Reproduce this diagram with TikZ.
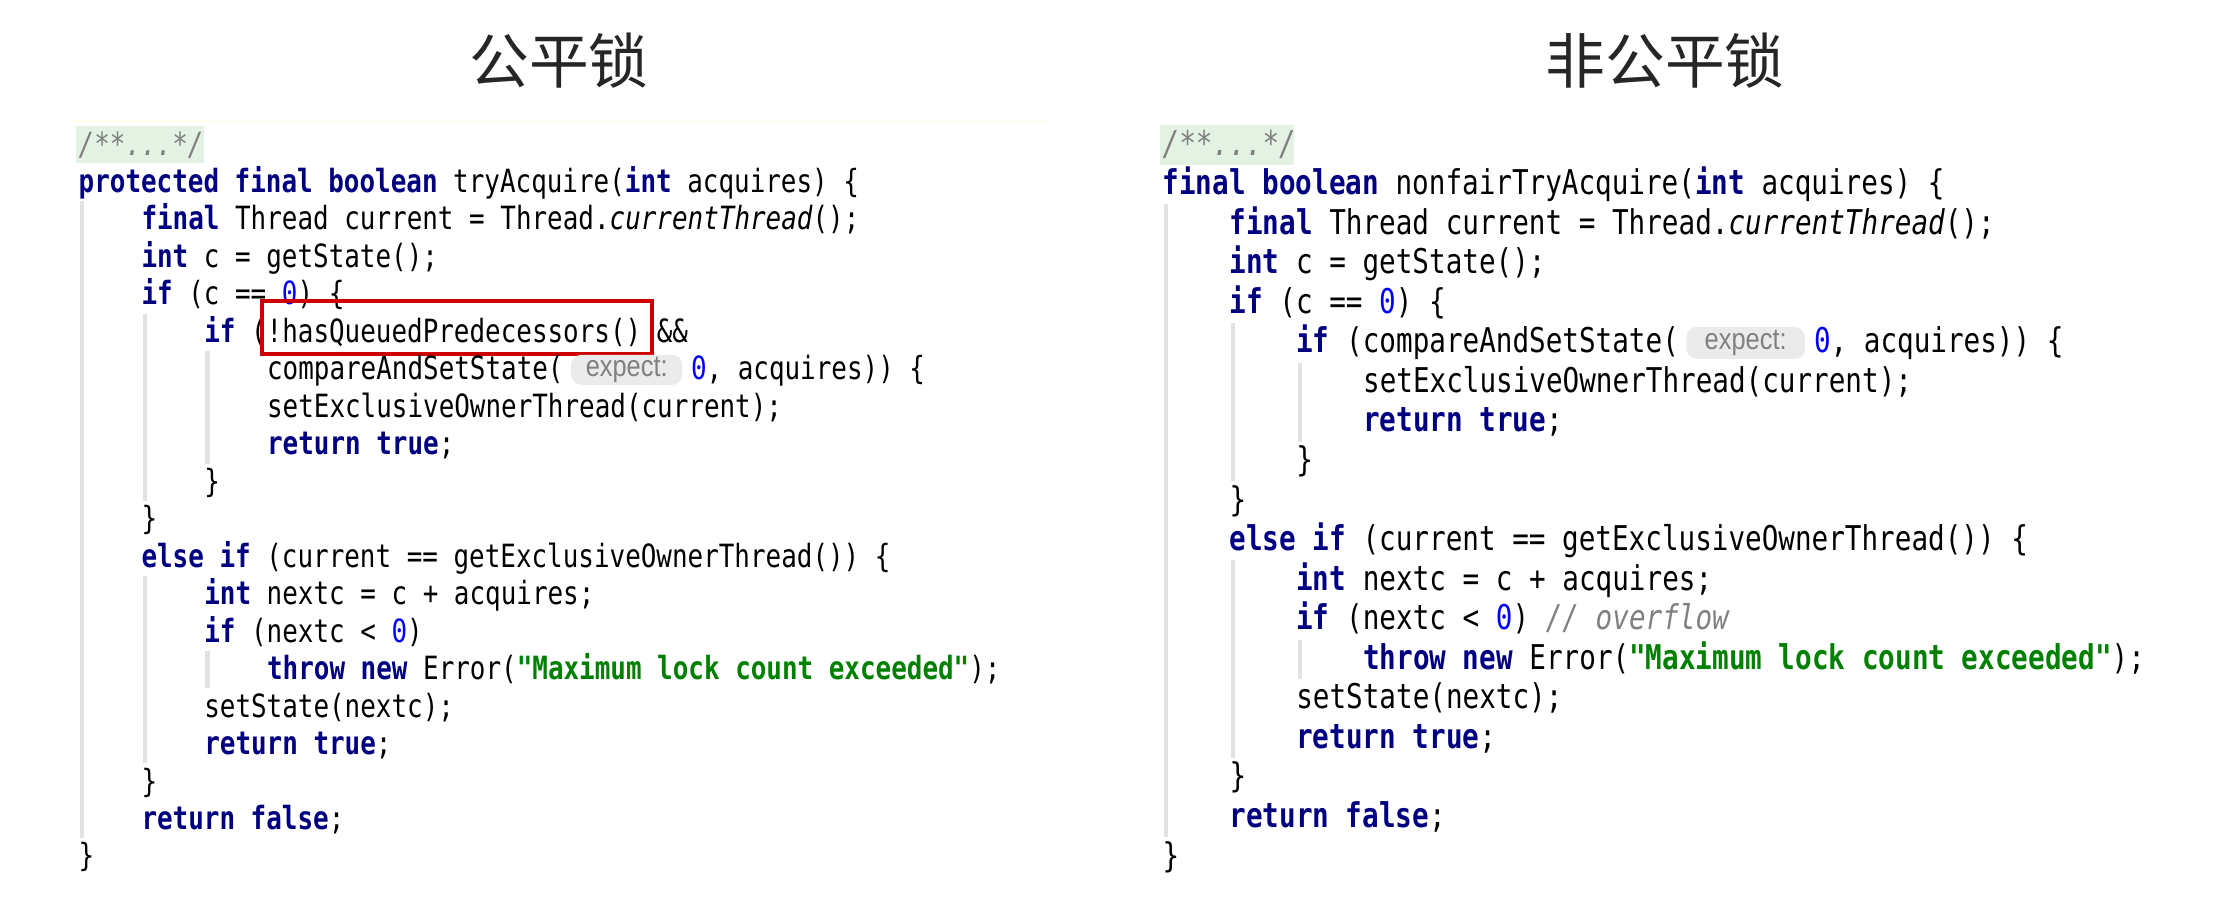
\documentclass[tikz,border=0pt]{standalone}
\usepackage{fontspec}
\setmonofont{DejaVu Sans Mono}[FakeStretch=0.81]
\newfontfamily\cjk{Noto Sans CJK SC}
\newfontfamily\hintfont{Liberation Sans}[FakeStretch=0.85]
\definecolor{kw}{HTML}{000080}
\definecolor{num}{HTML}{0000FF}
\definecolor{str}{HTML}{008000}
\definecolor{cmt}{HTML}{808080}
\definecolor{cmtbg}{HTML}{E4F2E4}
\definecolor{guide}{HTML}{E2E2E2}
\newcommand\K[1]{{\bfseries\color{kw}#1}}
\newcommand\N[1]{{\color{num}#1}}
\newcommand\St[1]{{\bfseries\color{str}#1}}
\newcommand\It[1]{{\itshape #1}}
\begin{document}
\begin{tikzpicture}[x=0.01cm,y=-0.01cm,
  title/.style={font=\cjk\fontsize{17}{20}\selectfont, text=black!85},
  codeL/.style={anchor=base west, inner sep=0pt, font=\ttfamily\fontsize{9.1}{11}\selectfont},
  codeR/.style={anchor=base west, inner sep=0pt, font=\ttfamily\fontsize{9.7}{12}\selectfont},
  guideline/.style={draw=guide, line width=1.2pt},
  hintbg/.style={fill=black!8, rounded corners=3pt},
  hint/.style={inner sep=0pt, text=cmt, font=\hintfont\fontsize{8.5}{10}\selectfont},
  cmtbox/.style={fill=cmtbg}
]
\useasboundingbox (0,0) rectangle (2218,918);
\fill[white] (0,0) rectangle (2218,918);
% titles
\node[title] (t1) at (559,61) {公平锁};
\node[title] (t2) at (1665,61) {非公平锁};

% ================= LEFT =================
\def\lx{78}\def\lc{15.7}\def\ly{145}\def\ll{37.47}
\fill[yellow!6] (71,120) rectangle (1050,123);
\fill[cmtbox] (76,126) rectangle (204,163);
% guides
\draw[guideline] ({\lx+4},{\ly+1.5*\ll}) -- ({\lx+4},{\ly+18.5*\ll});
\draw[guideline] ({\lx+4*\lc+4},{\ly+4.5*\ll}) -- ({\lx+4*\lc+4},{\ly+9.5*\ll});
\draw[guideline] ({\lx+8*\lc+4},{\ly+5.5*\ll}) -- ({\lx+8*\lc+4},{\ly+8.5*\ll});
\draw[guideline] ({\lx+4*\lc+4},{\ly+11.5*\ll}) -- ({\lx+4*\lc+4},{\ly+16.5*\ll});
\draw[guideline] ({\lx+8*\lc+4},{\ly+13.5*\ll}) -- ({\lx+8*\lc+4},{\ly+14.5*\ll});
\node[codeL] (l0) at ({\lx},{\ly+0*\ll+10}) {\color{cmt}\itshape /**...*/};
\node[codeL] (l1) at ({\lx},{\ly+1*\ll+10}) {\K{protected final boolean} tryAcquire(\K{int} acquires) \{};
\node[codeL] (l2) at ({\lx+4*\lc},{\ly+2*\ll+10}) {\K{final} Thread current = Thread.\It{currentThread}();};
\node[codeL] (l3) at ({\lx+4*\lc},{\ly+3*\ll+10}) {\K{int} c = getState();};
\node[codeL] (l4) at ({\lx+4*\lc},{\ly+4*\ll+10}) {\K{if} (c == \N{0}) \{};
\node[codeL] (l5) at ({\lx+8*\lc},{\ly+5*\ll+10}) {\K{if} (!hasQueuedPredecessors() \&\&};
\draw[red!80!black, line width=1pt] (262,301) rectangle (652,354);
\node[codeL] (l6) at ({\lx+12*\lc},{\ly+6*\ll+10}) {compareAndSetState(};
\fill[hintbg] ({\lx+31.4*\lc},{\ly+6*\ll-15}) rectangle ({\lx+38.5*\lc},{\ly+6*\ll+15});
\node[hint] (lh) at ({\lx+34.95*\lc},{\ly+6*\ll}) {expect:};
\node[codeL] (l6b) at ({\lx+39*\lc},{\ly+6*\ll+10}) {\N{0}, acquires)) \{};
\node[codeL] (l7) at ({\lx+12*\lc},{\ly+7*\ll+10}) {setExclusiveOwnerThread(current);};
\node[codeL] (l8) at ({\lx+12*\lc},{\ly+8*\ll+10}) {\K{return true};};
\node[codeL] (l9) at ({\lx+8*\lc},{\ly+9*\ll+10}) {\}};
\node[codeL] (l10) at ({\lx+4*\lc},{\ly+10*\ll+10}) {\}};
\node[codeL] (l11) at ({\lx+4*\lc},{\ly+11*\ll+10}) {\K{else if} (current == getExclusiveOwnerThread()) \{};
\node[codeL] (l12) at ({\lx+8*\lc},{\ly+12*\ll+10}) {\K{int} nextc = c + acquires;};
\node[codeL] (l13) at ({\lx+8*\lc},{\ly+13*\ll+10}) {\K{if} (nextc < \N{0})};
\node[codeL] (l14) at ({\lx+12*\lc},{\ly+14*\ll+10}) {\K{throw new} Error(\St{"Maximum lock count exceeded"});};
\node[codeL] (l15) at ({\lx+8*\lc},{\ly+15*\ll+10}) {setState(nextc);};
\node[codeL] (l16) at ({\lx+8*\lc},{\ly+16*\ll+10}) {\K{return true};};
\node[codeL] (l17) at ({\lx+4*\lc},{\ly+17*\ll+10}) {\}};
\node[codeL] (l18) at ({\lx+4*\lc},{\ly+18*\ll+10}) {\K{return false};};
\node[codeL] (l19) at ({\lx},{\ly+19*\ll+10}) {\}};

% ================= RIGHT =================
\def\rx{1162}\def\rc{16.7}\def\ry{145}\def\rl{39.56}
\fill[cmtbox] (1160,125) rectangle (1294,165);
\draw[guideline] ({\rx+4},{\ry+1.5*\rl}) -- ({\rx+4},{\ry+17.5*\rl});
\draw[guideline] ({\rx+4*\rc+4},{\ry+4.5*\rl}) -- ({\rx+4*\rc+4},{\ry+8.5*\rl});
\draw[guideline] ({\rx+8*\rc+4},{\ry+5.5*\rl}) -- ({\rx+8*\rc+4},{\ry+7.5*\rl});
\draw[guideline] ({\rx+4*\rc+4},{\ry+10.5*\rl}) -- ({\rx+4*\rc+4},{\ry+15.5*\rl});
\draw[guideline] ({\rx+8*\rc+4},{\ry+12.5*\rl}) -- ({\rx+8*\rc+4},{\ry+13.5*\rl});
\node[codeR] (r0) at ({\rx},{\ry+0*\rl+10}) {\color{cmt}\itshape /**...*/};
\node[codeR] (r1) at ({\rx},{\ry+1*\rl+10}) {\K{final boolean} nonfairTryAcquire(\K{int} acquires) \{};
\node[codeR] (r2) at ({\rx+4*\rc},{\ry+2*\rl+10}) {\K{final} Thread current = Thread.\It{currentThread}();};
\node[codeR] (r3) at ({\rx+4*\rc},{\ry+3*\rl+10}) {\K{int} c = getState();};
\node[codeR] (r4) at ({\rx+4*\rc},{\ry+4*\rl+10}) {\K{if} (c == \N{0}) \{};
\node[codeR] (r5) at ({\rx+8*\rc},{\ry+5*\rl+10}) {\K{if} (compareAndSetState(};
\fill[hintbg] ({\rx+31.4*\rc},{\ry+5*\rl-16}) rectangle ({\rx+38.5*\rc},{\ry+5*\rl+16});
\node[hint] (rh) at ({\rx+34.95*\rc},{\ry+5*\rl}) {expect:};
\node[codeR] (r5b) at ({\rx+39*\rc},{\ry+5*\rl+10}) {\N{0}, acquires)) \{};
\node[codeR] (r6) at ({\rx+12*\rc},{\ry+6*\rl+10}) {setExclusiveOwnerThread(current);};
\node[codeR] (r7) at ({\rx+12*\rc},{\ry+7*\rl+10}) {\K{return true};};
\node[codeR] (r8) at ({\rx+8*\rc},{\ry+8*\rl+10}) {\}};
\node[codeR] (r9) at ({\rx+4*\rc},{\ry+9*\rl+10}) {\}};
\node[codeR] (r10) at ({\rx+4*\rc},{\ry+10*\rl+10}) {\K{else if} (current == getExclusiveOwnerThread()) \{};
\node[codeR] (r11) at ({\rx+8*\rc},{\ry+11*\rl+10}) {\K{int} nextc = c + acquires;};
\node[codeR] (r12) at ({\rx+8*\rc},{\ry+12*\rl+10}) {\K{if} (nextc < \N{0}) {\color{cmt}\itshape // overflow}};
\node[codeR] (r13) at ({\rx+12*\rc},{\ry+13*\rl+10}) {\K{throw new} Error(\St{"Maximum lock count exceeded"});};
\node[codeR] (r14) at ({\rx+8*\rc},{\ry+14*\rl+10}) {setState(nextc);};
\node[codeR] (r15) at ({\rx+8*\rc},{\ry+15*\rl+10}) {\K{return true};};
\node[codeR] (r16) at ({\rx+4*\rc},{\ry+16*\rl+10}) {\}};
\node[codeR] (r17) at ({\rx+4*\rc},{\ry+17*\rl+10}) {\K{return false};};
\node[codeR] (r18) at ({\rx},{\ry+18*\rl+10}) {\}};
\end{tikzpicture}
\end{document}
